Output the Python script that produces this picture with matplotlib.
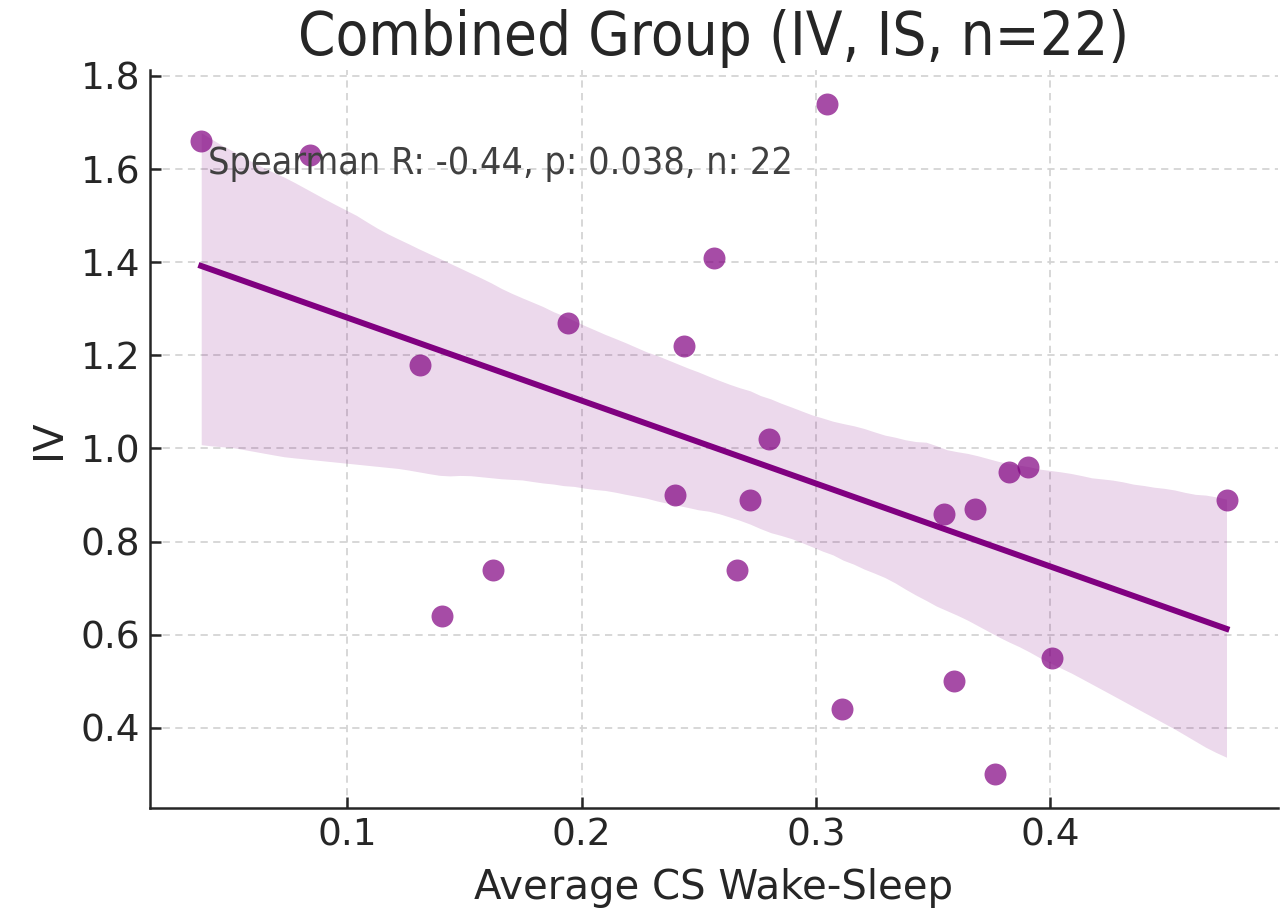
import numpy as np
import matplotlib
matplotlib.use("Agg")
import matplotlib.pyplot as plt

# Data
cs_wake_sleep = [0.0377, 0.0842, 0.131, 0.1405, 0.162, 0.194, 0.240, 0.2437,
                 0.2565, 0.2663, 0.272, 0.280, 0.3047, 0.311, 0.3545, 0.359,
                 0.368, 0.3763, 0.3823, 0.3904, 0.4006, 0.4752]
iv_values = [1.66, 1.63, 1.18, 0.64, 0.74, 1.27, 0.90, 1.22,
             1.41, 0.74, 0.89, 1.02, 1.74, 0.44, 0.86, 0.50,
             0.87, 0.30, 0.95, 0.96, 0.55, 0.89]
title_text = "Combined Group (IV, IS, n=22)"
annot_text = "Spearman R: -0.44, p: 0.038, n: 22"
xlabel_text = "Average CS Wake-Sleep"
ylabel_text = "IV"

x = np.asarray(cs_wake_sleep)
y = np.asarray(iv_values)

fig = plt.figure(figsize=(12.86, 9.13), dpi=100)
ax = fig.add_axes([0.1166, 0.115, 0.877, 0.808])

ax.set_axisbelow(True)
ax.grid(True, linestyle=(0, (4, 3)), color="#d4d4d4", linewidth=1.3)

# regression fit with bootstrap 95% CI (as seaborn regplot does)
n = len(x)
slope, intercept = np.polyfit(x, y, 1)
xs = np.linspace(x.min(), x.max(), 100)
yhat = intercept + slope * xs
rng = np.random.default_rng(0)
boots = []
for _ in range(1000):
    idx = rng.integers(0, n, n)
    b1, b0 = np.polyfit(x[idx], y[idx], 1)
    boots.append(b0 + b1 * xs)
boots = np.array(boots)
lo, hi = np.percentile(boots, [2.5, 97.5], axis=0)

ax.fill_between(xs, lo, hi, color="purple", alpha=0.15, linewidth=0)
ax.scatter(x, y, s=250, color="purple", alpha=0.7, linewidths=0, zorder=3)
ax.plot(xs, yhat, color="purple", linewidth=4.3, zorder=2)

xr = x.max() - x.min()
yr = y.max() - y.min()
ax.set_xlim(x.min() - 0.05 * xr, x.max() + 0.05 * xr)
ax.set_ylim(y.min() - 0.05 * yr, y.max() + 0.05 * yr)
ax.set_xticks([0.1, 0.2, 0.3, 0.4])
ax.set_yticks([0.4, 0.6, 0.8, 1.0, 1.2, 1.4, 1.6, 1.8])
ax.tick_params(direction="in", length=8, width=1.8, labelsize=27, colors="#262626", pad=7)
for sp in ["top", "right"]:
    ax.spines[sp].set_visible(False)
for sp in ["left", "bottom"]:
    ax.spines[sp].set_linewidth(1.8)
    ax.spines[sp].set_color("#262626")

ax.set_title(title_text, fontsize=43, color="#262626", pad=11, fontstretch="condensed")
ax.set_xlabel(xlabel_text, fontsize=29, color="#262626", labelpad=10)
ax.set_ylabel(ylabel_text, fontsize=29, color="#262626", labelpad=8)
ax.text(x.min() + 0.003, 1.59, annot_text, fontsize=27, color="#404040",
        fontstretch="condensed")

fig.savefig("out.png", dpi=100)
